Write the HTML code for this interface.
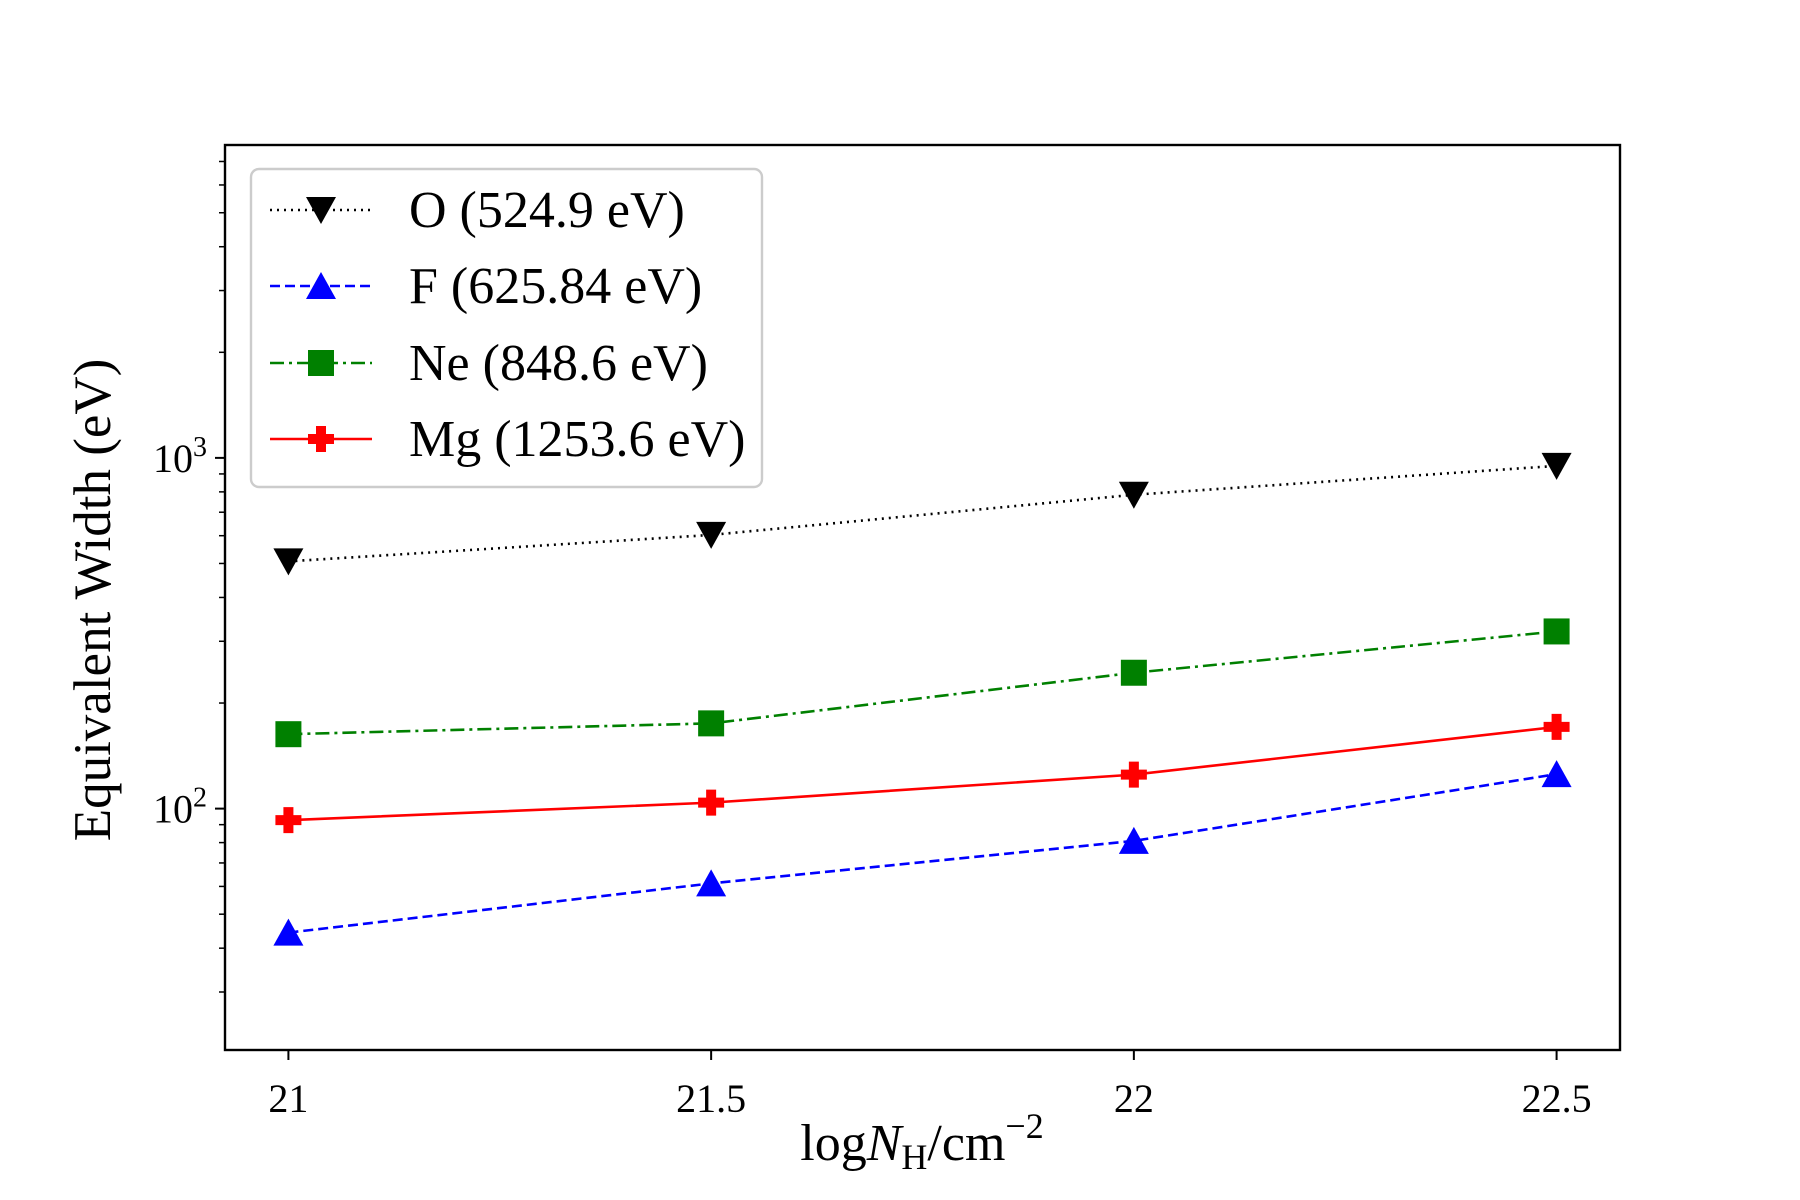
<!DOCTYPE html>
<html><head><meta charset="utf-8"><style>
html,body{margin:0;padding:0;background:#fff;}
svg{display:block;font-family:"Liberation Serif",serif;}
</style></head><body>
<svg id="chart" width="1800" height="1200" viewBox="0 0 1800 1200" xmlns="http://www.w3.org/2000/svg">
<rect width="1800" height="1200" fill="#fff"/>
<g id="plot"></g>
<text x="922" y="1160" font-size="52" text-anchor="middle">log<tspan font-style="italic">N</tspan><tspan font-size="36" dy="9">H</tspan><tspan dy="-9">/cm</tspan><tspan font-size="36" dy="-22">−2</tspan></text>
<text transform="translate(110,600) rotate(-90)" font-size="53" text-anchor="middle">Equivalent Width (eV)</text>
</svg>
<script>
const xCats = [21, 21.5, 22, 22.5];
const xTicks = [21, 21.5, 22, 22.5];
const xTickLabels = ["21", "21.5", "22", "22.5"];
const oVals = [507, 603, 785, 949];
const fVals = [44.3, 61.2, 80.9, 125.4];
const neVals = [163, 175, 244, 320];
const mgVals = [92.7, 104, 125, 171];
const seriesNames = ["O (524.9 eV)", "F (625.84 eV)", "Ne (848.6 eV)", "Mg (1253.6 eV)"];

const L=225,R=1620,T=145,B=1050;
const xMin=20.925,xMax=22.575,yMin=Math.log10(20.5),yMax=Math.log10(7800);
const xs=v=>L+(v-xMin)/(xMax-xMin)*(R-L);
const ys=v=>B-(Math.log10(v)-yMin)/(yMax-yMin)*(B-T);
const NS="http://www.w3.org/2000/svg";
const g=document.getElementById('plot');
function mk(tag,attrs,parent){const e=document.createElementNS(NS,tag);for(const k in attrs)e.setAttribute(k,attrs[k]);(parent||g).appendChild(e);return e;}

xTicks.forEach((t,i)=>{
  const l=mk('line',{x1:xs(t),x2:xs(t),y1:B,y2:B+10,stroke:'#000','stroke-width':2});
  
  
  const tx=mk('text',{x:xs(t),y:B+62,'font-size':40,'text-anchor':'middle'});
  tx.textContent=xTickLabels[i];
  
  
});
for(let d=1;d<=3;d++){
  for(let m=1;m<=9;m++){
    const v=m*Math.pow(10,d);
    if(Math.log10(v)<yMin||Math.log10(v)>yMax)continue;
    const major=m===1;
    const l=mk('line',{x1:L-(major?10:6),x2:L,y1:ys(v),y2:ys(v),stroke:'#000','stroke-width':major?2:1.5});
    
    
    if(major){
      const tx=mk('text',{x:L-18,y:ys(v)+14,'font-size':40,'text-anchor':'end'});
      tx.innerHTML='10<tspan font-size="28" dy="-16">'+d+'</tspan>';
      
      
    }
  }
}

const styles=[
 {vals:oVals,color:'#000',dash:'2,5',marker:'vtri',name:'series-o'},
 {vals:fVals,color:'#0000ff',dash:'10,5',marker:'tri',name:'series-f'},
 {vals:neVals,color:'#008000',dash:'14,5,3,5',marker:'sq',name:'series-ne'},
 {vals:mgVals,color:'#ff0000',dash:'none',marker:'plus',name:'series-mg'}
];
function marker(type,x,y,c,parent){
  let e;
  if(type==='vtri') e=mk('polygon',{points:`${x-15},${y-13} ${x+15},${y-13} ${x},${y+14}`,fill:c},parent);
  else if(type==='tri') e=mk('polygon',{points:`${x-15},${y+13} ${x+15},${y+13} ${x},${y-14}`,fill:c},parent);
  else if(type==='sq') e=mk('rect',{x:x-13,y:y-13,width:26,height:26,fill:c},parent);
  else e=mk('path',{d:`M${x-5},${y-13}h10v8h8v10h-8v8h-10v-8h-8v-10h8z`,fill:c},parent);
  return e;
}
styles.forEach(s=>{
  const sg=mk('g',{});
  
  
  const pts=s.vals.map((v,i)=>xs(xCats[i])+','+ys(v)).join(' ');
  mk('polyline',{points:pts,fill:'none',stroke:s.color,'stroke-width':2.6,'stroke-dasharray':s.dash},sg);
  s.vals.forEach((v,i)=>{
    const m=marker(s.marker,xs(xCats[i]),ys(v),s.color,sg);
    
    
  });
});

const fr=mk('rect',{x:L,y:T,width:R-L,height:B-T,fill:'none',stroke:'#000','stroke-width':2.4});



const lg=mk('g',{});


mk('rect',{x:251,y:169,width:511,height:318,rx:8,fill:'#fff','fill-opacity':0.8,stroke:'#ccc','stroke-width':2.4},lg);
const rowsY=[210,286,363,439];
styles.forEach((s,i)=>{
  const eg=mk('g',{},lg);
  
  
  mk('line',{x1:270,x2:372,y1:rowsY[i],y2:rowsY[i],stroke:s.color,'stroke-width':2.6,'stroke-dasharray':s.dash},eg);
  marker(s.marker,321,rowsY[i],s.color,eg);
  const t=mk('text',{x:409,y:rowsY[i]+17,'font-size':52},eg);
  t.textContent=seriesNames[i];
});
</script>
</body></html>
